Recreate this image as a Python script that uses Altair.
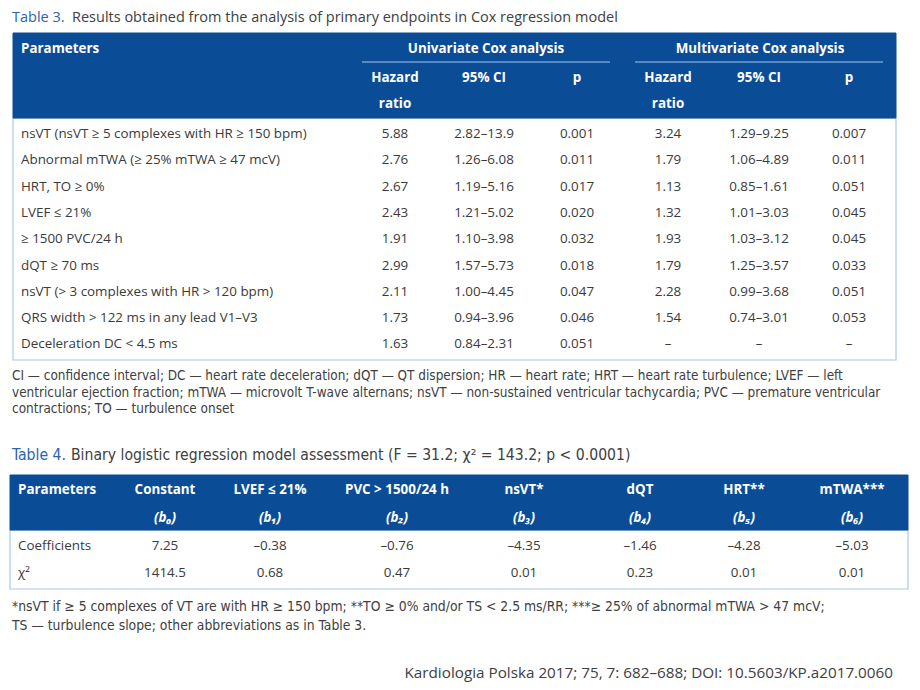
import altair as alt
import pandas as pd

# ---------------- data ----------------
t3_title_lead = "Table 3."
t3_title_rest = "Results obtained from the analysis of primary endpoints in Cox regression model"
t3_params = [
    "nsVT (nsVT ≥ 5 complexes with HR ≥ 150 bpm)",
    "Abnormal mTWA (≥ 25% mTWA ≥ 47 mcV)",
    "HRT, TO ≥ 0%",
    "LVEF ≤ 21%",
    "≥ 1500 PVC/24 h",
    "dQT ≥ 70 ms",
    "nsVT (> 3 complexes with HR > 120 bpm)",
    "QRS width > 122 ms in any lead V1–V3",
    "Deceleration DC < 4.5 ms",
]
t3_uni_hr = ["5.88", "2.76", "2.67", "2.43", "1.91", "2.99", "2.11", "1.73", "1.63"]
t3_uni_ci = ["2.82–13.9", "1.26–6.08", "1.19–5.16", "1.21–5.02", "1.10–3.98",
             "1.57–5.73", "1.00–4.45", "0.94–3.96", "0.84–2.31"]
t3_uni_p = ["0.001", "0.011", "0.017", "0.020", "0.032", "0.018", "0.047", "0.046", "0.051"]
t3_multi_hr = ["3.24", "1.79", "1.13", "1.32", "1.93", "1.79", "2.28", "1.54", "–"]
t3_multi_ci = ["1.29–9.25", "1.06–4.89", "0.85–1.61", "1.01–3.03", "1.03–3.12",
               "1.25–3.57", "0.99–3.68", "0.74–3.01", "–"]
t3_multi_p = ["0.007", "0.011", "0.051", "0.045", "0.045", "0.033", "0.051", "0.053", "–"]
t3_groups = ["Univariate Cox analysis", "Multivariate Cox analysis"]
t3_sub = ["Hazard", "95% CI", "p", "Hazard", "95% CI", "p"]
t3_foot = [
    "CI — confidence interval; DC — heart rate deceleration; dQT — QT dispersion; HR — heart rate; HRT — heart rate turbulence; LVEF — left",
    "ventricular ejection fraction; mTWA — microvolt T-wave alternans; nsVT — non-sustained ventricular tachycardia; PVC — premature ventricular",
    "contractions; TO — turbulence onset",
]

t4_title_lead = "Table 4."
t4_title_rest = "Binary logistic regression model assessment (F = 31.2; χ² = 143.2; p < 0.0001)"
t4_cols = ["Parameters", "Constant", "LVEF ≤ 21%", "PVC > 1500/24 h", "nsVT*", "dQT", "HRT**", "mTWA***"]
t4_sub = ["", "(b₀)", "(b₁)", "(b₂)", "(b₃)", "(b₄)", "(b₅)", "(b₆)"]
t4_rows = ["Coefficients", "χ²"]
t4_coef = ["7.25", "–0.38", "–0.76", "–4.35", "–1.46", "–4.28", "–5.03"]
t4_chi = ["1414.5", "0.68", "0.47", "0.01", "0.23", "0.01", "0.01"]
t4_foot = [
    "*nsVT if ≥ 5 complexes of VT are with HR ≥ 150 bpm; **TO ≥ 0% and/or TS < 2.5 ms/RR; ***≥ 25% of abnormal mTWA > 47 mcV;",
    "TS — turbulence slope; other abbreviations as in Table 3.",
]
citation = "Kardiologia Polska 2017; 75, 7: 682–688; DOI: 10.5603/KP.a2017.0060"

# ---------------- layout ----------------
W, H = 904, 674
MAIN = "Open Sans"
NARROW = "DejaVu Sans Condensed, Roboto Condensed, Roboto, sans-serif"
BLUE = "#0b4c97"
TITLE_BLUE = "#2b64ab"
TEXT = "#3a3a3a"
BORDER = "#a9c7e7"

xs = alt.Scale(domain=[8, 8 + W], range=[0, W])
ys = alt.Scale(domain=[8, 8 + H], range=[0, H])
X = lambda f="x": alt.X(f, type="quantitative", scale=xs, axis=None)
Y = lambda f="y": alt.Y(f, type="quantitative", scale=ys, axis=None)

t3 = dict(left=13, right=896, top=33, hbot=118, bot=360, row0=134, step=26.3,
          cols=[395, 484, 577, 668, 759, 849])
t4 = dict(left=10, right=908, top=475, hbot=530, bot=589, row0=546, step=27,
          cols=[165, 270, 397, 524, 640, 744, 852])

rects = pd.DataFrame([
    dict(x=t3["left"], x2=t3["right"], y=t3["hbot"], y2=t3["bot"], kind="border"),
    dict(x=t4["left"], x2=t4["right"], y=t4["hbot"], y2=t4["bot"], kind="border"),
    dict(x=t3["left"], x2=t3["right"], y=t3["top"], y2=t3["hbot"], kind="head"),
    dict(x=t4["left"], x2=t4["right"], y=t4["top"], y2=t4["hbot"], kind="head"),
])

border_layer = alt.Chart(rects[rects.kind == "border"]).mark_rect(
    fillOpacity=0, stroke=BORDER, strokeWidth=1.2
).encode(x=X(), x2="x2", y=Y(), y2="y2")
head_layer = alt.Chart(rects[rects.kind == "head"]).mark_rect(
    fill=BLUE, stroke=BLUE, strokeWidth=1
).encode(x=X(), x2="x2", y=Y(), y2="y2")

rules = pd.DataFrame([
    dict(x=362, x2=610, y=62),
    dict(x=635, x2=883, y=62),
])
rule_layer = alt.Chart(rules).mark_rule(color="#6f9fd4", strokeWidth=1.5).encode(
    x=X(), x2="x2", y=Y())


def tl(rows, align="left", font=MAIN, size=13, weight="normal", color=TEXT, style="normal"):
    df = pd.DataFrame(rows, columns=["x", "y", "t"])
    return alt.Chart(df).mark_text(
        align=align, baseline="middle", font=font, fontSize=size,
        fontWeight=weight, color=color, fontStyle=style
    ).encode(x=X(), y=Y(), text="t:N")


layers = [border_layer, head_layer, rule_layer]

# titles
layers.append(tl([(12, 17.5, t3_title_lead)], size=14.5, color=TITLE_BLUE))
layers.append(tl([(72, 17.5, t3_title_rest)], size=14.5, color="#404040"))
layers.append(tl([(12, 455, t4_title_lead)], font=NARROW, size=15.6, color=TITLE_BLUE))
layers.append(tl([(71, 455, t4_title_rest)], font=NARROW, size=15.6, color="#404040"))

# table 3 header
hdr_left = [(21, 49, "Parameters")]
hdr_center = [(486, 49, t3_groups[0]), (760, 49, t3_groups[1])]
for cx, s in zip(t3["cols"], t3_sub):
    hdr_center.append((cx, 78, s))
for cx in (t3["cols"][0], t3["cols"][3]):
    hdr_center.append((cx, 104, "ratio"))
layers.append(tl(hdr_left, size=13.4, weight="bold", color="white"))
layers.append(tl(hdr_center, align="center", size=13.4, weight="bold", color="white"))

# table 3 body
body_left, body_center = [], []
cols3 = [t3_uni_hr, t3_uni_ci, t3_uni_p, t3_multi_hr, t3_multi_ci, t3_multi_p]
for i, name in enumerate(t3_params):
    yy = t3["row0"] + i * t3["step"]
    body_left.append((21, yy, name))
    for cx, col in zip(t3["cols"], cols3):
        body_center.append((cx, yy, col[i]))

# table 4 header
h4_left = [(18, 490, t4_cols[0])]
h4_center = [(cx, 490, c) for cx, c in zip(t4["cols"], t4_cols[1:])]
layers.append(tl(h4_left, size=13.4, weight="bold", color="white"))
layers.append(tl(h4_center, align="center", size=13.4, weight="bold", color="white"))
layers.append(tl([(cx, 518, s) for cx, s in zip(t4["cols"], t4_sub[1:])],
                 align="center", size=13.4, weight="bold", color="white", style="italic"))

# table 4 body
for r, (label, vals) in enumerate(zip(t4_rows, [t4_coef, t4_chi])):
    yy = t4["row0"] + r * t4["step"]
    body_left.append((18, yy, label))
    for cx, v in zip(t4["cols"], vals):
        body_center.append((cx, yy, v))
layers.append(tl(body_left, size=13.4))
layers.append(tl(body_center, size=13.4, align="center"))

# footnotes
foot3 = [(12, 376 + i * 16.5, s) for i, s in enumerate(t3_foot)]
foot4 = [(12, 607 + i * 19, s) for i, s in enumerate(t4_foot)]
layers.append(tl(foot3, font=NARROW, size=13.45, color="#404040"))
layers.append(tl(foot4, font=NARROW, size=13.8, color="#404040"))
layers.append(tl([(893, 673, citation)], align="right", size=15.25, color="#404040"))

chart = alt.layer(*layers).properties(
    width=W, height=H, padding=0, autosize=alt.AutoSizeParams(type="none")
).configure_view(stroke=None)

chart.save("out.html", embed_options={"renderer": "svg", "actions": False})
